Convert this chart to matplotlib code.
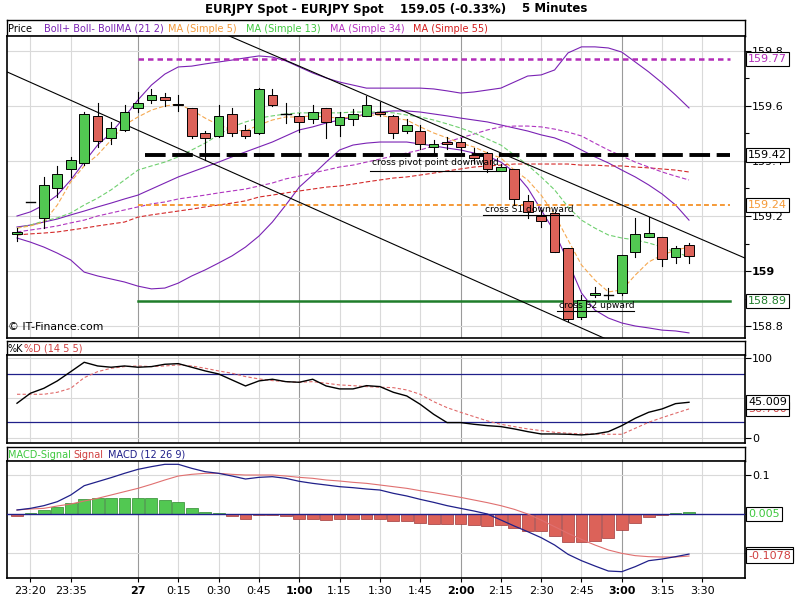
import matplotlib
matplotlib.use('Agg')
import matplotlib.pyplot as plt
from matplotlib.patches import Rectangle
import numpy as np

# ---------------- data ----------------
opens = [159.135, 159.252, 159.192, 159.301, 159.370, 159.392, 159.564, 159.483, 159.513, 159.592,
         159.622, 159.632, 159.607, 159.592, 159.500, 159.491, 159.570, 159.513, 159.500, 159.640,
         159.571, 159.564, 159.552, 159.592, 159.531, 159.552, 159.564, 159.579, 159.564, 159.510,
         159.510, 159.450, 159.470, 159.470, 159.422, 159.428, 159.364, 159.370, 159.256, 159.200,
         159.210, 159.083, 158.832, 158.913, 158.913, 158.921, 159.070, 159.123, 159.122, 159.052, 159.095]
closes = [159.142, 159.252, 159.312, 159.352, 159.404, 159.570, 159.472, 159.521, 159.579, 159.610,
          159.640, 159.622, 159.604, 159.491, 159.483, 159.564, 159.500, 159.491, 159.661, 159.604,
          159.571, 159.541, 159.579, 159.541, 159.559, 159.570, 159.604, 159.571, 159.500, 159.531,
          159.462, 159.462, 159.462, 159.450, 159.410, 159.370, 159.379, 159.261, 159.216, 159.182,
          159.070, 158.824, 158.895, 158.921, 158.913, 159.058, 159.135, 159.139, 159.043, 159.083, 159.055]
highs = [159.155, 159.252, 159.343, 159.382, 159.413, 159.579, 159.610, 159.543, 159.604, 159.650,
         159.661, 159.648, 159.640, 159.594, 159.510, 159.604, 159.592, 159.531, 159.665, 159.661,
         159.612, 159.574, 159.604, 159.594, 159.579, 159.589, 159.636, 159.616, 159.566, 159.552,
         159.531, 159.476, 159.486, 159.483, 159.446, 159.434, 159.389, 159.370, 159.276, 159.222,
         159.216, 159.083, 158.913, 158.941, 158.940, 159.058, 159.192, 159.195, 159.123, 159.091, 159.103]
lows = [159.110, 159.252, 159.156, 159.270, 159.341, 159.385, 159.452, 159.461, 159.510, 159.579,
        159.610, 159.600, 159.580, 159.483, 159.404, 159.489, 159.491, 159.483, 159.497, 159.600,
        159.539, 159.507, 159.537, 159.483, 159.491, 159.531, 159.562, 159.564, 159.483, 159.500,
        159.443, 159.425, 159.443, 159.434, 159.394, 159.361, 159.364, 159.240, 159.192, 159.161,
        159.070, 158.820, 158.824, 158.907, 158.900, 158.913, 159.052, 159.122, 159.018, 159.030, 159.030]

boll_upper = [159.200, 159.215, 159.240, 159.276, 159.331, 159.396, 159.458, 159.502, 159.560, 159.622,
              159.676, 159.716, 159.742, 159.745, 159.753, 159.760, 159.767, 159.775, 159.782, 159.778,
              159.764, 159.742, 159.720, 159.702, 159.687, 159.676, 159.665, 159.665, 159.665, 159.665,
              159.665, 159.662, 159.655, 159.647, 159.651, 159.658, 159.665, 159.687, 159.709, 159.713,
              159.731, 159.793, 159.815, 159.815, 159.811, 159.796, 159.760, 159.724, 159.684, 159.640, 159.593]
boll_mid = [159.160, 159.167, 159.178, 159.189, 159.204, 159.218, 159.233, 159.247, 159.262, 159.276,
            159.298, 159.320, 159.342, 159.360, 159.378, 159.396, 159.415, 159.433, 159.451, 159.469,
            159.491, 159.513, 159.524, 159.538, 159.549, 159.560, 159.571, 159.578, 159.582, 159.582,
            159.578, 159.571, 159.564, 159.556, 159.549, 159.542, 159.531, 159.520, 159.509, 159.495,
            159.484, 159.465, 159.440, 159.415, 159.393, 159.367, 159.342, 159.313, 159.280, 159.240, 159.185]
boll_lower = [159.120, 159.105, 159.087, 159.065, 159.040, 158.996, 158.982, 158.971, 158.960, 158.945,
              158.935, 158.938, 158.956, 158.982, 159.004, 159.029, 159.055, 159.087, 159.127, 159.178,
              159.240, 159.305, 159.349, 159.396, 159.440, 159.458, 159.465, 159.469, 159.469, 159.469,
              159.462, 159.455, 159.447, 159.440, 159.429, 159.418, 159.396, 159.360, 159.302, 159.222,
              159.142, 159.033, 158.920, 158.858, 158.829, 158.811, 158.800, 158.793, 158.785, 158.782, 158.775]
ma5 = [159.156, 159.164, 159.178, 159.240, 159.324, 159.382, 159.422, 159.476, 159.531, 159.560,
       159.585, 159.600, 159.607, 159.585, 159.556, 159.531, 159.513, 159.509, 159.531, 159.549,
       159.560, 159.560, 159.564, 159.560, 159.556, 159.560, 159.567, 159.567, 159.556, 159.549,
       159.524, 159.502, 159.484, 159.465, 159.451, 159.429, 159.411, 159.367, 159.331, 159.276,
       159.204, 159.113, 159.022, 158.967, 158.924, 158.931, 158.985, 159.033, 159.058, 159.076, 159.087]
ma13 = [159.156, 159.167, 159.182, 159.193, 159.211, 159.240, 159.265, 159.295, 159.331, 159.367,
        159.382, 159.396, 159.415, 159.440, 159.465, 159.495, 159.524, 159.542, 159.556, 159.564,
        159.571, 159.575, 159.575, 159.575, 159.575, 159.578, 159.578, 159.578, 159.575, 159.567,
        159.560, 159.549, 159.535, 159.520, 159.502, 159.480, 159.458, 159.422, 159.385, 159.342,
        159.295, 159.233, 159.185, 159.156, 159.131, 159.120, 159.113, 159.102, 159.087, 159.069, 159.051]
ma34 = [159.142, 159.149, 159.156, 159.164, 159.175, 159.185, 159.200, 159.211, 159.222, 159.233,
        159.244, 159.251, 159.262, 159.269, 159.276, 159.284, 159.291, 159.298, 159.309, 159.320,
        159.335, 159.345, 159.356, 159.367, 159.378, 159.385, 159.396, 159.407, 159.418, 159.429,
        159.440, 159.455, 159.469, 159.484, 159.498, 159.513, 159.524, 159.527, 159.527, 159.524,
        159.516, 159.505, 159.491, 159.465, 159.440, 159.418, 159.396, 159.378, 159.360, 159.345, 159.331]
ma55 = [159.131, 159.135, 159.138, 159.142, 159.149, 159.156, 159.164, 159.171, 159.178, 159.196,
        159.204, 159.211, 159.218, 159.225, 159.233, 159.240, 159.247, 159.255, 159.269, 159.276,
        159.284, 159.291, 159.298, 159.305, 159.309, 159.316, 159.324, 159.331, 159.338, 159.342,
        159.349, 159.356, 159.364, 159.371, 159.378, 159.382, 159.385, 159.389, 159.389, 159.389,
        159.389, 159.389, 159.385, 159.385, 159.382, 159.382, 159.378, 159.375, 159.371, 159.367, 159.360]

stoch_k = [43.8, 56.3, 62.5, 71.7, 83.3, 95.0, 90.4, 88.8, 90.4, 88.8,
           89.6, 92.5, 93.3, 88.8, 84.2, 80.4, 72.9, 65.4, 71.7, 73.8,
           70.8, 70.0, 73.8, 65.4, 61.7, 61.7, 65.8, 64.6, 57.5, 52.9,
           42.5, 30.0, 19.6, 19.6, 17.5, 15.8, 14.6, 11.7, 8.3, 5.4,
           5.4, 5.0, 4.2, 5.4, 8.3, 15.8, 25.0, 32.5, 36.7, 43.3, 45.009]
stoch_d = [55.0, 55.0, 55.0, 57.5, 62.5, 75.8, 83.3, 87.5, 89.6, 90.4,
           89.6, 90.4, 91.7, 90.4, 87.5, 84.2, 81.3, 77.1, 74.2, 72.1,
           70.8, 70.0, 70.8, 68.8, 66.7, 65.8, 64.6, 63.8, 63.3, 60.4,
           55.0, 45.8, 38.3, 32.5, 27.1, 21.7, 17.5, 14.6, 11.7, 9.6,
           7.5, 6.3, 5.4, 5.4, 5.0, 5.0, 12.5, 20.0, 25.8, 31.3, 36.7]

macd = [0.0103, 0.0145, 0.0214, 0.0316, 0.0487, 0.0726, 0.0829, 0.0932, 0.1043, 0.1145,
        0.1214, 0.1274, 0.1274, 0.1171, 0.1085, 0.1043, 0.0974, 0.0897, 0.0940, 0.0957,
        0.0915, 0.0838, 0.0786, 0.0744, 0.0701, 0.0675, 0.0641, 0.0615, 0.0530, 0.0462,
        0.0376, 0.0299, 0.0214, 0.0145, 0.0077, 0.0000, -0.0154, -0.0308, -0.0453, -0.0607,
        -0.0795, -0.1034, -0.1197, -0.1333, -0.1462, -0.1479, -0.1350, -0.1197, -0.1154, -0.1094, -0.1028]
signal = [0.0103, 0.0128, 0.0145, 0.0205, 0.0256, 0.0333, 0.0402, 0.0487, 0.0573, 0.0658,
          0.0761, 0.0872, 0.0974, 0.1017, 0.1043, 0.1043, 0.1017, 0.1000, 0.1000, 0.1000,
          0.0974, 0.0940, 0.0915, 0.0872, 0.0846, 0.0812, 0.0786, 0.0744, 0.0701, 0.0658,
          0.0598, 0.0547, 0.0487, 0.0427, 0.0359, 0.0291, 0.0214, 0.0120, 0.0000, -0.0154,
          -0.0325, -0.0496, -0.0650, -0.0795, -0.0923, -0.1009, -0.1068, -0.1094, -0.1103, -0.1103, -0.1078]
macd_hist = [-0.005, 0.0026, 0.010, 0.017, 0.027, 0.038, 0.040, 0.040, 0.040, 0.040,
             0.040, 0.036, 0.030, 0.0145, 0.006, 0.0026, -0.005, -0.012, -0.0034, -0.0034,
             -0.006, -0.012, -0.012, -0.016, -0.0137, -0.0137, -0.0137, -0.0137, -0.019, -0.019,
             -0.024, -0.0256, -0.0256, -0.0256, -0.028, -0.031, -0.029, -0.037, -0.043, -0.043,
             -0.056, -0.071, -0.071, -0.068, -0.061, -0.041, -0.024, -0.0085, -0.0034, 0.0026, 0.005]

time_tick_pos = [1, 4, 9, 12, 15, 18, 21, 24, 27, 30, 33, 36, 39, 42, 45, 48, 51]
time_tick_labels = ['23:20', '23:35', '27', '0:15', '0:30', '0:45', '1:00', '1:15', '1:30',
                    '1:45', '2:00', '2:15', '2:30', '2:45', '3:00', '3:15', '3:30']
major_time_labels = ['27', '1:00', '2:00', '3:00']

pivot_r2 = 159.77
pivot_p = 159.42
pivot_s1 = 159.24
pivot_s2 = 158.89
pivot_start, pivot_end = 9, 53.05

trend_a = [(-0.744, 159.724), (44.0, 158.749)]
trend_b = [(15.625, 159.858), (54.167, 159.047)]

signals = [("cross pivot point downward", 26.4, 159.393, 26.3, 35.9, 159.364),
           ("cross S1 downward", 34.8, 159.225, 34.7, 41.4, 159.204),
           ("cross S2 upward", 40.3, 158.873, 40.2, 45.9, 158.853)]

price_ticks = [158.8, 159.0, 159.2, 159.4, 159.6, 159.8]
price_tick_labels = ['158.8', '159', '159.2', '159.4', '159.6', '159.8']

# ---------------- styling ----------------
W, H = 800, 600
GREEN = '#52c852'
RED = '#dc6259'
PURPLE = '#7a22b4'
LIGHT = '#d9d9d9'
DARK = '#9a9a9a'
NAVY = '#20208a'
plt.rcParams['font.family'] = ['DejaVu Sans']

fig = plt.figure(figsize=(8, 6), dpi=100)
fig.patch.set_facecolor('white')


def rect(x0, y0, x1, y1):
    return [x0 / W, 1 - y1 / H, (x1 - x0) / W, (y1 - y0) / H]


XLIM = (-0.744, 54.167)


def header(y0, y1):
    a = fig.add_axes(rect(7, y0, 745, y1))
    a.set_xlim(0, 738)
    a.set_ylim(0, 1)
    a.set_xticks([])
    a.set_yticks([])
    for s in a.spines.values():
        s.set_linewidth(1.0)
    return a


def base(ax):
    ax.set_xlim(*XLIM)
    for p, lab in zip(time_tick_pos, time_tick_labels):
        ax.axvline(p, color=DARK if lab in major_time_labels else LIGHT, lw=0.8, zorder=0)
    ax.yaxis.tick_right()
    ax.tick_params(axis='y', direction='out', length=4, width=0.8, labelsize=8, pad=1)
    for s in ax.spines.values():
        s.set_linewidth(1.2)


def vbox(ax, y, s, color, ec='black', z=10):
    ax.text(1.0 + 3 / 738, y, s, transform=ax.get_yaxis_transform(), ha='left', va='center',
            fontsize=8, color=color, zorder=z, clip_on=False,
            bbox=dict(boxstyle='square,pad=0.18', fc='white', ec=ec, lw=0.8))


# title
fig.text(205 / W, 1 - 9 / H, 'EURJPY Spot - EURJPY Spot', fontsize=8.5, fontweight='bold', va='center', ha='left')
fig.text(400 / W, 1 - 9 / H, '159.05 (-0.33%)', fontsize=8.5, fontweight='bold', va='center', ha='left')
fig.text(522 / W, 1 - 9 / H, '5 Minutes', fontsize=8.5, fontweight='bold', va='center', ha='left')

# ---------------- main panel ----------------
h1 = header(20, 36)
for x, t, c in [(1, 'Price', 'black'), (37, 'Boll+ Boll- BollMA (21 2)', PURPLE),
                (161, 'MA (Simple 5)', '#f39a3a'), (239, 'MA (Simple 13)', '#3ec83e'),
                (323, 'MA (Simple 34)', '#b42fc0'), (406, 'MA (Simple 55)', '#d41c1c')]:
    h1.text(x, 0.45, t, color=c, fontsize=7, va='center', ha='left')

ax = fig.add_axes(rect(7, 36, 745, 338))
base(ax)
ax.set_ylim(158.7564, 159.8545)
for p in price_ticks:
    ax.axhline(p, color=LIGHT, lw=0.8, zorder=0)
ax.set_yticks(price_ticks)
ax.set_yticklabels(price_tick_labels)
ax.set_yticks([158.9, 159.1, 159.3, 159.5, 159.7], minor=True)
ax.tick_params(axis='y', which='minor', direction='out', length=3, width=0.8)
for lab in ax.get_yticklabels():
    if lab.get_text() == '159':
        lab.set_fontweight('bold')
ax.set_xticks([])

idx = np.arange(len(opens))
# indicators
ax.plot(idx, boll_upper, color=PURPLE, lw=0.8, zorder=2)
ax.plot(idx, boll_mid, color=PURPLE, lw=0.8, zorder=2)
ax.plot(idx, boll_lower, color=PURPLE, lw=0.8, zorder=2)
ax.plot(idx, ma55, color='#d42a2a', lw=0.8, ls=(0, (4, 2)), zorder=2)
ax.plot(idx, ma34, color='#b035c0', lw=0.8, ls=(0, (4, 2)), zorder=2)
ax.plot(idx, ma13, color='#6fd06f', lw=0.8, ls=(0, (4, 2)), zorder=2)
ax.plot(idx, ma5, color='#f5a850', lw=0.8, ls=(0, (4, 2)), zorder=2)

# pivots
ax.plot([pivot_start, pivot_end], [pivot_r2] * 2, color='#b22cb8', lw=1.8, ls=(0, (2.2, 1.6)), zorder=3)
ax.plot([pivot_start + 0.5, pivot_end], [pivot_p] * 2, color='black', lw=2.8, ls=(0, (5.3, 1.7)), zorder=3)
ax.plot([pivot_start, pivot_end], [pivot_s1] * 2, color='#f59a38', lw=1.4, ls=(0, (2.5, 1.6)), zorder=3)
ax.plot([pivot_start, pivot_end], [pivot_s2] * 2, color='#1f7d2a', lw=1.8, zorder=3)

# trend lines
ax.plot([p[0] for p in trend_a], [p[1] for p in trend_a], color='black', lw=0.8, zorder=3)
ax.plot([p[0] for p in trend_b], [p[1] for p in trend_b], color='black', lw=0.8, zorder=3)

# candles
bw = 0.72
for i in idx:
    o, c, hi, lo = opens[i], closes[i], highs[i], lows[i]
    ax.plot([i, i], [lo, hi], color='black', lw=0.8, zorder=4)
    if abs(c - o) < 0.002:
        ax.plot([i - bw / 2, i + bw / 2], [o, o], color='black', lw=1.0, zorder=5)
    else:
        col = GREEN if c > o else RED
        ax.add_patch(Rectangle((i - bw / 2, min(o, c)), bw, abs(c - o), fc=col, ec='black', lw=0.7, zorder=5))

# signals
for txt, tx, ty, ux0, ux1, uy in signals:
    ax.text(tx, ty, txt, fontsize=6.6, va='center', ha='left', zorder=6)
    ax.plot([ux0, ux1], [uy, uy], color='black', lw=0.8, zorder=6)

ax.text(0.002, 0.035, '\u00a9 IT-Finance.com', transform=ax.transAxes, fontsize=7.8, va='center', ha='left')

vbox(ax, pivot_r2, '159.77', '#b22cb8')
vbox(ax, pivot_p, '159.42', 'black')
vbox(ax, pivot_s1, '159.24', '#f59a38')
vbox(ax, pivot_s2, '158.89', '#1f7d2a')

# ---------------- stochastic ----------------
h2 = header(341, 355)
h2.text(1, 0.45, '%K', color='black', fontsize=7, va='center', ha='left')
h2.text(17, 0.45, '%D (14 5 5)', color='#d04040', fontsize=7, va='center', ha='left')

ax2 = fig.add_axes(rect(7, 355, 745, 443))
base(ax2)
ax2.set_ylim(-5.9, 104.1)
for v in [0, 50, 100]:
    ax2.axhline(v, color=LIGHT, lw=0.8, zorder=0)
ax2.axhline(80, color=NAVY, lw=0.9, zorder=1)
ax2.axhline(20, color=NAVY, lw=0.9, zorder=1)
ax2.set_yticks([0, 100])
ax2.set_yticklabels(['0', '100'])
ax2.set_xticks([])
ax2.plot(idx, stoch_d, color='#e06a6a', lw=0.8, ls=(0, (3, 2)), zorder=2)
ax2.plot(idx, stoch_k, color='black', lw=1.0, zorder=3)
vbox(ax2, stoch_d[-1], '%.3f' % stoch_d[-1], '#d04040', z=9)
vbox(ax2, stoch_k[-1], '%.3f' % stoch_k[-1], 'black', z=10)

# ---------------- MACD ----------------
h3 = header(447, 461)
h3.text(1, 0.45, 'MACD-Signal', color='#3ec83e', fontsize=7, va='center', ha='left')
h3.text(66, 0.45, 'Signal', color='#d04040', fontsize=7, va='center', ha='left')
h3.text(101, 0.45, 'MACD (12 26 9)', color=NAVY, fontsize=7, va='center', ha='left')

ax3 = fig.add_axes(rect(7, 461, 745, 578))
base(ax3)
ax3.set_ylim(-0.1641, 0.1359)
for v in [0.1, -0.1]:
    ax3.axhline(v, color=LIGHT, lw=0.8, zorder=0)
ax3.set_yticks([0.1, 0.0, -0.1])
ax3.set_yticklabels(['0.1', '', ''])
for i, v in enumerate(macd_hist):
    col = GREEN if v >= 0 else RED
    ec = '#2e8a2e' if v >= 0 else '#a03a3a'
    ax3.add_patch(Rectangle((i - 0.44, min(0, v)), 0.88, abs(v), fc=col, ec=ec, lw=0.5, zorder=2))
ax3.axhline(0, color=NAVY, lw=1.0, zorder=3)
ax3.plot(idx, signal, color='#e07070', lw=0.8, zorder=4)
ax3.plot(idx, macd, color=NAVY, lw=0.9, zorder=4)
vbox(ax3, macd[-1], '%.4f' % macd[-1], NAVY, z=8)
vbox(ax3, signal[-1], '%.4f' % signal[-1], '#d04040', z=9)
vbox(ax3, 0.0, '%.3f' % macd_hist[-1], '#3ec83e', z=10)

ax3.set_xticks(time_tick_pos)
ax3.set_xticklabels(time_tick_labels)
ax3.tick_params(axis='x', length=3, width=0.8, labelsize=8, pad=3)
for lab in ax3.get_xticklabels():
    if lab.get_text() in major_time_labels:
        lab.set_fontweight('bold')

fig.savefig('out.png', dpi=100, facecolor='white')
